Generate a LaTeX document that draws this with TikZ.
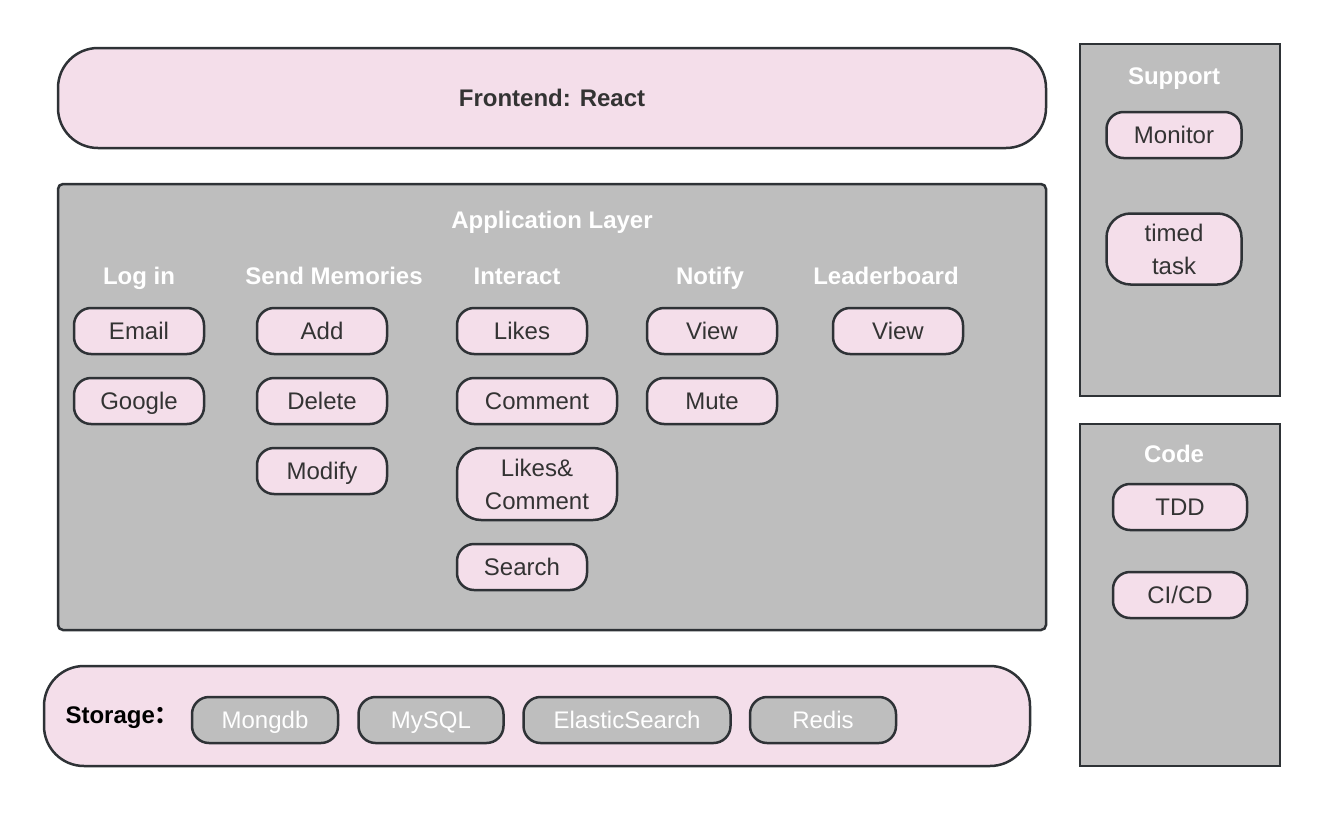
\documentclass[tikz,border=0pt]{standalone}
\usepackage{fontspec}
\setmainfont{Liberation Sans}
\newfontfamily\cjk{Noto Sans CJK SC}
\usepackage{xcolor}
\usepackage{tikz}
\usetikzlibrary{positioning}

\definecolor{pinkfill}{HTML}{F4DEEA}
\definecolor{grayfill}{HTML}{BEBEBE}
\definecolor{edgecol}{HTML}{2E3236}
\definecolor{textcol}{HTML}{333333}

\tikzset{
    layer/.style={draw=edgecol,line width=2.5pt,fill=pinkfill,rounded corners=40pt,
        text=textcol,font=\fontsize{24}{28}\selectfont\bfseries},
    panel/.style={draw=edgecol,line width=2.5pt,fill=grayfill,rounded corners=5pt},
    pill/.style={draw=edgecol,line width=2.5pt,fill=pinkfill,rounded corners=17pt,
        minimum width=130pt,minimum height=46pt,inner sep=0pt,align=center,
        text=textcol,font=\fontsize{24}{33}\selectfont},
    oneline/.style={text height=20pt,text depth=3pt},
    dbpill/.style={pill,oneline,fill=grayfill,text=white},
    heading/.style={oneline,text=white,font=\fontsize{24}{28}\selectfont\bfseries}
}

\begin{document}
\begin{tikzpicture}[x=1pt,y=-1pt]
    \useasboundingbox (0,0) rectangle (1326,830);

    % frontend and storage
    \node[layer,oneline,minimum width=988pt,minimum height=100pt] (front) at (552,98) {Frontend: React};
    \node[layer,minimum width=986pt,minimum height=100pt] (store) at (537,716) {};
    \node[oneline,anchor=west,font=\fontsize{24}{28}\selectfont\bfseries] (storetitle) at (62,715) {Storage{\cjk ：}};
    \node[dbpill,minimum width=146pt] (mongo) at (265,720) {Mongdb};
    \node[dbpill,minimum width=145pt] (mysql) at (431,720) {MySQL};
    \node[dbpill,minimum width=207pt] (es) at (627,720) {ElasticSearch};
    \node[dbpill,minimum width=146pt] (redis) at (823,720) {Redis};

    % application layer
    \node[panel,minimum width=988pt,minimum height=446pt] (app) at (552,407) {};
    \node[heading] (apptitle) at (552,220) {Application Layer};

    \node[heading] (login) at (139,276) {Log in};
    \node[heading] (send) at (334,276) {Send Memories};
    \node[heading] (interact) at (517,276) {Interact};
    \node[heading] (notify) at (710,276) {Notify};
    \node[heading] (board) at (886,276) {Leaderboard};

    \node[pill,oneline] (email) at (139,331) {Email};
    \node[pill,oneline] (google) at (139,401) {Google};

    \node[pill,oneline] (add) at (322,331) {Add};
    \node[pill,oneline] (delete) at (322,401) {Delete};
    \node[pill,oneline] (modify) at (322,471) {Modify};

    \node[pill,oneline] (likes) at (522,331) {Likes};
    \node[pill,oneline,minimum width=160pt] (comment) at (537,401) {Comment};
    \node[pill,minimum width=160pt,minimum height=72pt,rounded corners=24pt] (both) at (537,484) {Likes\&\\Comment};
    \node[pill,oneline] (search) at (522,567) {Search};

    \node[pill,oneline] (view) at (712,331) {View};
    \node[pill,oneline] (mute) at (712,401) {Mute};

    \node[pill,oneline] (boardview) at (898,331) {View};

    % support
    \node[panel,rounded corners=0pt,minimum width=200pt,minimum height=352pt] (support) at (1180,220) {};
    \node[heading] (supporttitle) at (1174,76) {Support};
    \node[pill,oneline,minimum width=135pt] (monitor) at (1174,135) {Monitor};
    \node[pill,minimum width=135pt,minimum height=71pt,rounded corners=24pt] (timed) at (1174,249) {timed\\task};

    % code
    \node[panel,rounded corners=0pt,minimum width=200pt,minimum height=342pt] (code) at (1180,595) {};
    \node[heading] (codetitle) at (1174,454) {Code};
    \node[pill,oneline,minimum width=134pt] (tdd) at (1180,507) {TDD};
    \node[pill,oneline,minimum width=134pt] (cicd) at (1180,595) {CI/CD};
\end{tikzpicture}
\end{document}
